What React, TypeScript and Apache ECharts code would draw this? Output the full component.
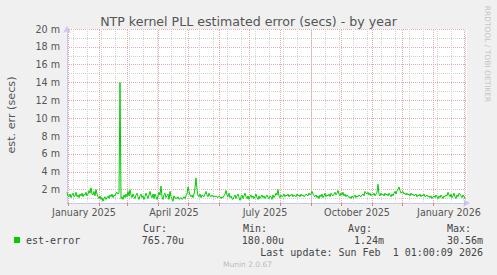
import React, { useEffect, useRef } from "react";
import * as echarts from "echarts";

// Daily values of est-error in milliseconds, starting 2024-12-31 (day 0)
const START_DATE = "2024-12-31";
const errorValues: number[] = [
  1.7,1.3,1.2,1.5,1.1,1.4,1.6,1.2,1.3,1.7,1.2,1.4,1.1,1.5,1.3,1.6,1.2,1.5,1.4,1.7,
  1.3,1.5,1.9,1.6,2.2,1.5,1.4,1.8,1.3,2.0,1.5,1.2,1.0,1.3,0.9,1.1,0.7,1.0,1.2,0.9,
  1.1,1.3,1.0,1.4,1.2,1.5,1.1,1.4,1.3,1.6,1.7,1.5,1.7,14.0,1.0,1.2,0.9,1.4,1.1,1.5,
  1.2,1.8,1.3,2.0,1.4,1.1,1.5,1.2,1.0,1.4,1.6,1.2,0.9,1.3,1.5,1.1,1.3,0.9,1.2,1.6,
  1.3,1.0,1.4,1.8,1.3,1.1,1.5,1.0,1.5,1.2,0.9,1.3,1.7,1.4,2.4,1.2,0.9,1.4,1.6,1.1,
  1.3,1.5,0.9,1.8,1.2,1.0,0.7,1.3,1.0,1.1,1.0,1.2,0.9,1.0,1.1,0.9,1.0,1.2,1.0,1.3,
  1.5,2.3,1.8,1.4,1.2,1.4,1.1,1.5,2.2,3.3,2.0,1.3,1.2,1.5,1.1,1.4,1.3,1.2,1.5,1.8,
  1.4,1.2,1.6,1.3,1.2,1.4,1.2,1.3,1.2,1.3,1.2,1.1,1.3,1.2,1.0,1.2,1.1,1.3,1.5,1.9,
  1.4,1.2,1.6,1.1,1.3,1.0,0.9,1.2,1.4,1.0,1.3,1.5,1.1,0.8,1.2,1.4,1.0,1.3,1.6,1.2,
  1.0,1.3,0.9,1.2,1.4,1.1,1.3,1.0,1.2,1.5,1.1,0.9,1.3,1.0,1.2,1.4,1.1,1.3,1.0,1.2,
  1.4,1.1,1.0,1.3,1.2,0.9,1.4,1.1,1.3,1.6,1.4,2.0,1.3,1.1,1.4,1.2,1.3,1.5,1.2,1.4,
  1.3,1.5,1.2,1.4,1.3,1.5,1.2,1.4,1.3,1.2,1.5,1.3,1.4,1.2,1.5,1.3,1.4,1.2,1.3,1.5,
  1.4,1.3,1.6,1.4,1.5,1.8,1.5,1.3,1.2,1.4,1.1,1.3,1.0,1.4,1.2,1.5,1.1,1.3,1.6,1.2,
  1.4,1.3,1.5,1.2,1.6,1.4,1.3,1.5,1.7,1.4,1.6,1.9,1.5,1.3,1.6,1.4,1.7,1.3,1.5,1.2,
  1.4,1.3,1.1,1.2,1.0,1.3,1.1,1.2,1.4,1.1,1.3,1.2,1.4,1.3,1.2,1.4,1.5,1.3,1.8,1.6,
  1.5,1.7,1.4,1.6,1.3,1.5,1.4,1.6,1.3,1.5,1.7,2.6,1.5,1.3,1.6,1.4,1.5,1.3,1.6,1.4,
  1.5,1.3,1.6,1.4,1.2,1.5,1.3,1.6,1.8,1.5,1.9,2.0,2.3,1.9,1.6,1.7,1.8,1.5,1.6,1.4,
  1.6,1.4,1.5,1.3,1.6,1.4,1.5,1.3,1.4,1.5,1.2,1.4,1.3,1.5,1.2,1.4,1.3,1.5,1.2,1.3,
  1.4,1.2,1.3,1.1,1.3,1.0,1.2,1.3,1.1,1.4,1.2,1.0,1.3,1.1,1.4,1.2,1.0,1.3,1.2,1.4,
  1.3,1.7,1.4,1.2,1.5,1.1,1.3,1.6,1.2,1.0,1.4,1.2,1.6,1.5,1.3,1.1,1.4,1.2,1.0,
];

// Day offsets (from START_DATE) of month starts (major grid) and biweekly Mondays (minor grid)
const monthStartDays = [1, 32, 60, 91, 121, 152, 182, 213, 244, 274, 305, 335, 366, 397];
const biweeklyDays = [6, 20, 34, 48, 62, 76, 90, 104, 118, 132, 146, 160, 174, 188, 202, 216, 230, 244, 258, 272, 286, 300, 314, 328, 342, 356, 370, 384, 398];
const xLabelTexts = ["January 2025", "April 2025", "July 2025", "October 2025", "January 2026"];
const xLabelDays = [17, 107, 198, 290, 382];
const X_MIN_DAY = 0;
const X_MAX_DAY = 400;

const Y_MIN = 0.5;
const Y_MAX = 20;
const Y_STEP = 0.5;

const TITLE = "NTP kernel PLL estimated error (secs) - by year";
const Y_NAME = "est. err (secs)";
const SERIES_NAME = "est-error";
const statHeaders = ["Cur:", "Min:", "Avg:", "Max:"];
const statValues = ["765.70u", "180.00u", "1.24m", "30.56m"];
const LAST_UPDATE = "Last update: Sun Feb  1 01:00:09 2026";
const WATERMARK = "RRDTOOL / TOBI OETIKER";
const FOOTER = "Munin 2.0.67";

const MAJOR_GRID = "#eaa8a8";
const MINOR_GRID = "#d2d2d2";

export default function App() {
  const ref = useRef<HTMLDivElement>(null);

  useEffect(() => {
    if (!ref.current) return;
    const chart = echarts.init(ref.current, undefined, { renderer: "svg" });
    const labelMap: Record<number, string> = {};
    xLabelDays.forEach((d, i) => (labelMap[d] = xLabelTexts[i]));

    const mono = "'DejaVu Sans Mono', monospace";
    const sans = "'DejaVu Sans', sans-serif";
    const valueRight = [184, 284, 384, 483];
    const headerLeft = [143, 243, 348, 447];

    const graphics: any[] = [
      {
        type: "text",
        x: 11,
        y: 115,
        rotation: Math.PI / 2,
        style: { text: Y_NAME, font: `11.2px ${sans}`, fill: "#555", textAlign: "center", textVerticalAlign: "middle" },
      },
      {
        type: "text",
        x: 487.5,
        y: 54,
        rotation: -Math.PI / 2,
        style: { text: WATERMARK, font: `7.5px ${sans}`, fill: "#c4c4c4", textAlign: "center", textVerticalAlign: "middle" },
      },
      { type: "rect", shape: { x: 14, y: 237, width: 6, height: 6 }, style: { fill: "#00cc00" } },
      {
        type: "text",
        x: 26,
        y: 240,
        style: { text: SERIES_NAME, font: `10px ${mono}`, fill: "#444", textAlign: "left", textVerticalAlign: "middle" },
      },
      {
        type: "text",
        x: 483,
        y: 252,
        style: { text: LAST_UPDATE, font: `10px ${mono}`, fill: "#444", textAlign: "right", textVerticalAlign: "middle" },
      },
      {
        type: "text",
        x: 247.5,
        y: 264,
        style: { text: FOOTER, font: `7.5px ${sans}`, fill: "#bbb", textAlign: "center", textVerticalAlign: "middle" },
      },
    ];
    statHeaders.forEach((h, i) => {
      graphics.push({
        type: "text",
        x: headerLeft[i],
        y: 228,
        style: { text: h, font: `10px ${mono}`, fill: "#444", textAlign: "left", textVerticalAlign: "middle" },
      });
      graphics.push({
        type: "text",
        x: valueRight[i],
        y: 240,
        style: { text: statValues[i], font: `10px ${mono}`, fill: "#444", textAlign: "right", textVerticalAlign: "middle" },
      });
    });

    chart.setOption({
      animation: false,
      backgroundColor: "#f0f0f0",
      title: {
        text: TITLE,
        left: "center",
        top: 10,
        textStyle: { fontFamily: sans, fontSize: 12.6, fontWeight: "normal", color: "#555" },
      },
      grid: {
        left: 67,
        right: 30,
        top: 29,
        bottom: 72,
        show: true,
        backgroundColor: "#ffffff",
        borderWidth: 0,
      },
      xAxis: [
        {
          type: "value",
          min: X_MIN_DAY,
          max: X_MAX_DAY,
          position: "bottom",
          axisLine: { show: false },
          axisTick: { show: false, customValues: biweeklyDays },
          axisLabel: { show: false, customValues: biweeklyDays },
          splitLine: { show: true, lineStyle: { type: "dotted", width: 1, color: MINOR_GRID } },
          z: 0,
        },
        {
          type: "value",
          min: X_MIN_DAY,
          max: X_MAX_DAY,
          position: "bottom",
          axisLine: {
            show: true,
            onZero: false,
            lineStyle: { color: "#c8c8f0", width: 1 },
            symbol: ["none", "arrow"],
            symbolSize: [6, 7],
            symbolOffset: [0, 3],
          },
          axisTick: { show: true, customValues: monthStartDays, length: 3, lineStyle: { color: "#e08080" } },
          axisLabel: {
            customValues: xLabelDays,
            formatter: (v: number) => labelMap[v] ?? "",
            fontFamily: sans,
            fontSize: 9.6,
            color: "#555",
            margin: 4,
          },
          splitLine: { show: false },
          z: 1,
        },
      ],
      yAxis: {
        type: "value",
        min: Y_MIN,
        max: Y_MAX,
        interval: Y_STEP,
        axisLine: {
          show: true,
          lineStyle: { color: "#c8c8f0", width: 1 },
          symbol: ["none", "arrow"],
          symbolSize: [6, 7],
          symbolOffset: [0, 3],
        },
        axisTick: { show: false },
        axisLabel: {
          formatter: (v: number) => (Math.abs(v % 2) < 1e-6 ? `${v} m` : ""),
          fontFamily: sans,
          fontSize: 9.6,
          color: "#555",
          margin: 7,
        },
        splitLine: {
          show: true,
          lineStyle: {
            type: "dotted",
            width: 1,
            color: ["rgba(0,0,0,0)", MINOR_GRID, "rgba(0,0,0,0)", MAJOR_GRID],
          },
        },
      },
      graphic: graphics,
      series: [
        {
          name: SERIES_NAME,
          type: "line",
          xAxisIndex: 1,
          data: errorValues.map((v, i) => [i, v]),
          showSymbol: false,
          symbol: "none",
          lineStyle: { color: "#00cc00", width: 1 },
          z: 3,
          markLine: {
            silent: true,
            z: 1,
            symbol: ["none", "none"],
            label: { show: false },
            emphasis: { disabled: true },
            lineStyle: { type: "dotted", width: 1, color: MAJOR_GRID },
            data: monthStartDays.map((d) => ({
              xAxis: d,
              lineStyle: { type: "dotted", width: 1, color: MAJOR_GRID },
            })),
          },
        },
      ],
    });
    return () => chart.dispose();
  }, []);

  return (
    <div
      ref={ref}
      style={{ position: "fixed", left: 0, top: 0, width: 497, height: 275, background: "#f0f0f0" }}
    />
  );
}
